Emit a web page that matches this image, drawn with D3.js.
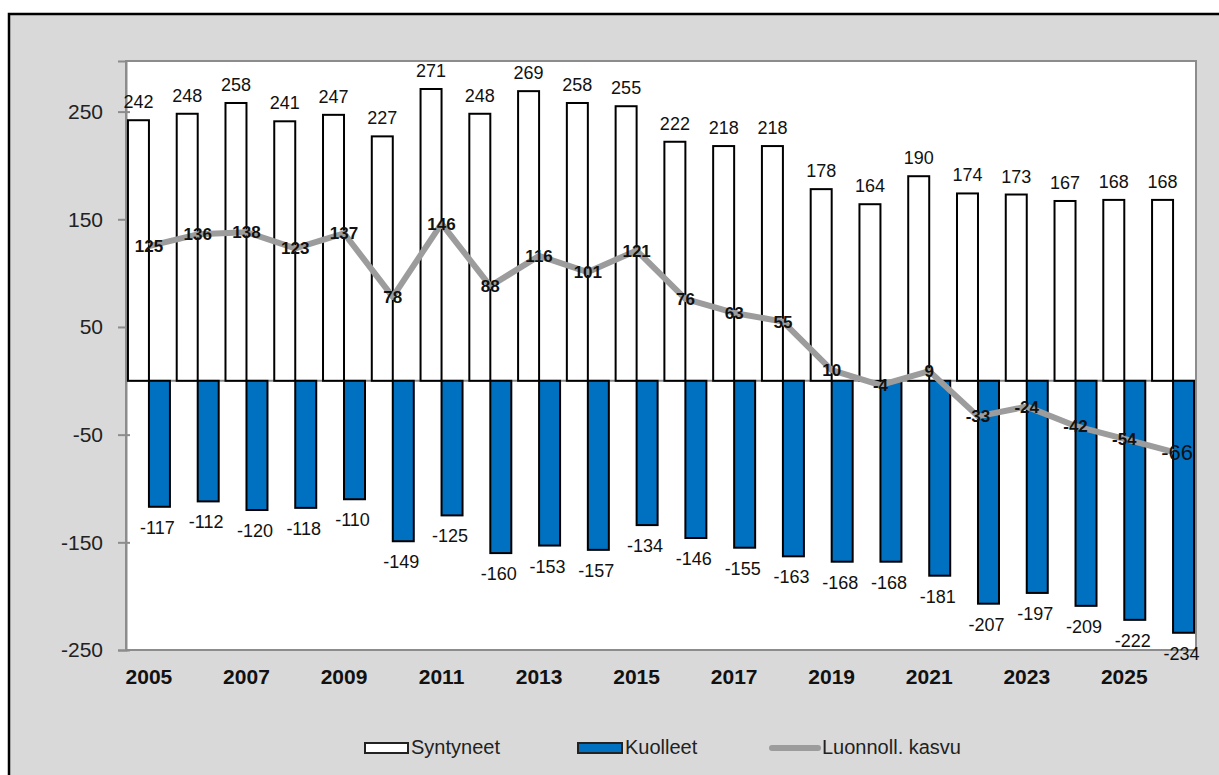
<!DOCTYPE html>
<html>
<head>
<meta charset="utf-8">
<script src="https://cdn.jsdelivr.net/npm/d3@7"></script>
<style>
  body { margin: 0; background: #fff; }
  svg { display: block; font-family: Arial, "Liberation Sans", sans-serif; }
</style>
</head>
<body>
<svg width="1219" height="775"></svg>
<script>
// data
var years = [2005, 2006, 2007, 2008, 2009, 2010, 2011, 2012, 2013, 2014, 2015,
             2016, 2017, 2018, 2019, 2020, 2021, 2022, 2023, 2024, 2025, 2026];
var syntyneet = [242, 248, 258, 241, 247, 227, 271, 248, 269, 258, 255,
                 222, 218, 218, 178, 164, 190, 174, 173, 167, 168, 168];
var kuolleet = [-117, -112, -120, -118, -110, -149, -125, -160, -153, -157, -134,
                -146, -155, -163, -168, -168, -181, -207, -197, -209, -222, -234];
var kasvu = [125, 136, 138, 123, 137, 78, 146, 88, 116, 101, 121,
             76, 63, 55, 10, -4, 9, -33, -24, -42, -54, -66];
var yTicks = [250, 150, 50, -50, -150, -250];
var xLabels = [2005, 2007, 2009, 2011, 2013, 2015, 2017, 2019, 2021, 2023, 2025];
var seriesNames = ["Syntyneet", "Kuolleet", "Luonnoll. kasvu"];

var svg = d3.select("svg");

// outer frame
svg.append("rect")
    .attr("x", 9).attr("y", 14)
    .attr("width", 1240).attr("height", 800)
    .attr("fill", "#d9d9d9")
    .attr("stroke", "#000").attr("stroke-width", 2.5);

var plot = {left: 126, right: 1196, top: 61, bottom: 650};

svg.append("rect")
    .attr("x", plot.left).attr("y", plot.top)
    .attr("width", plot.right - plot.left).attr("height", plot.bottom - plot.top)
    .attr("fill", "#fff")
    .attr("stroke", "#8c8c8c").attr("stroke-width", 2);

var x = d3.scaleBand()
    .domain(years)
    .range([plot.left, plot.right])
    .paddingInner(0.139)
    .paddingOuter(0.04);

var xs = d3.scaleBand()
    .domain(["s", "k"])
    .range([0, x.bandwidth()]);

var y = d3.scaleLinear()
    .domain([-250, 297])
    .range([plot.bottom, plot.top]);

// y axis
var yAxis = svg.append("g")
    .attr("transform", "translate(" + plot.left + ",0)")
    .call(d3.axisLeft(y).tickValues(yTicks).tickSize(8).tickPadding(15)
        .tickFormat(function(d) { return String(d); }));
yAxis.select(".domain").attr("stroke", "#8c8c8c").attr("stroke-width", 2);
yAxis.selectAll(".tick line").attr("stroke", "#8c8c8c").attr("stroke-width", 2)
    .attr("x1", 4);
yAxis.selectAll(".tick text")
    .attr("font-size", 21).attr("fill", "#222")
    .attr("font-family", "Arial, 'Liberation Sans', sans-serif");

// zero line
svg.append("line")
    .attr("x1", plot.left).attr("x2", plot.right)
    .attr("y1", y(0)).attr("y2", y(0))
    .attr("stroke", "#8c8c8c").attr("stroke-width", 2);

var rows = years.map(function(d, i) {
    return {year: d, s: syntyneet[i], k: kuolleet[i], n: kasvu[i]};
});

// bars
var g = svg.append("g").selectAll("g").data(rows).enter().append("g")
    .attr("transform", function(d) { return "translate(" + x(d.year) + ",0)"; });

g.append("rect")
    .attr("x", xs("s"))
    .attr("y", function(d) { return y(d.s); })
    .attr("width", xs.bandwidth())
    .attr("height", function(d) { return y(0) - y(d.s); })
    .attr("fill", "#fff").attr("stroke", "#000").attr("stroke-width", 2);

g.append("rect")
    .attr("x", xs("k"))
    .attr("y", y(0))
    .attr("width", xs.bandwidth())
    .attr("height", function(d) { return y(d.k) - y(0); })
    .attr("fill", "#0070c0").attr("stroke", "#000").attr("stroke-width", 2);

g.append("text")
    .attr("x", xs("s") + xs.bandwidth() / 2)
    .attr("y", function(d) { return y(d.s) - 12; })
    .attr("text-anchor", "middle").attr("font-size", 18).attr("fill", "#111")
    .text(function(d) { return d.s; });

g.append("text")
    .attr("x", xs("k") + xs.bandwidth() / 2 - 2)
    .attr("y", function(d) { return y(d.k) + 27; })
    .attr("text-anchor", "middle").attr("font-size", 18).attr("fill", "#111")
    .text(function(d) { return d.k; });

// line
var cx = function(d) { return x(d.year) + x.bandwidth() / 2; };
svg.append("path")
    .datum(rows)
    .attr("fill", "none").attr("stroke", "#9c9c9c").attr("stroke-width", 6)
    .attr("stroke-linejoin", "round")
    .attr("d", d3.line().x(cx).y(function(d) { return y(d.n); }));

svg.append("g").selectAll("text").data(rows).enter().append("text")
    .attr("x", function(d, i) { return cx(d) + (i === rows.length - 1 ? 4 : 0); })
    .attr("y", function(d, i) { return y(d.n) + (i === rows.length - 1 ? 8 : 6); })
    .attr("text-anchor", "middle")
    .attr("font-size", function(d, i) { return i === rows.length - 1 ? 22 : 17; })
    .attr("font-weight", function(d, i) { return i === rows.length - 1 ? "normal" : "bold"; })
    .attr("fill", "#111")
    .text(function(d) { return d.n; });

// x labels
svg.append("g").selectAll("text").data(xLabels).enter().append("text")
    .attr("x", function(d) { return x(d) + x.bandwidth() / 2; })
    .attr("y", 684)
    .attr("text-anchor", "middle").attr("font-size", 21).attr("font-weight", "bold")
    .attr("fill", "#111")
    .text(function(d) { return d; });

// legend
var lg = svg.append("g");
lg.append("rect").attr("x", 365).attr("y", 743).attr("width", 43).attr("height", 10)
    .attr("fill", "#fff").attr("stroke", "#222").attr("stroke-width", 2);
lg.append("text").attr("x", 411).attr("y", 754).attr("font-size", 20).attr("fill", "#222")
    .text(seriesNames[0]);
lg.append("rect").attr("x", 578).attr("y", 743).attr("width", 44).attr("height", 10)
    .attr("fill", "#0070c0").attr("stroke", "#222").attr("stroke-width", 2);
lg.append("text").attr("x", 625).attr("y", 754).attr("font-size", 20).attr("fill", "#222")
    .text(seriesNames[1]);
lg.append("line").attr("x1", 772).attr("x2", 818).attr("y1", 748).attr("y2", 748)
    .attr("stroke", "#9c9c9c").attr("stroke-width", 6).attr("stroke-linecap", "round");
lg.append("text").attr("x", 822).attr("y", 754).attr("font-size", 20).attr("fill", "#222")
    .text(seriesNames[2]);
</script>
</body>
</html>
